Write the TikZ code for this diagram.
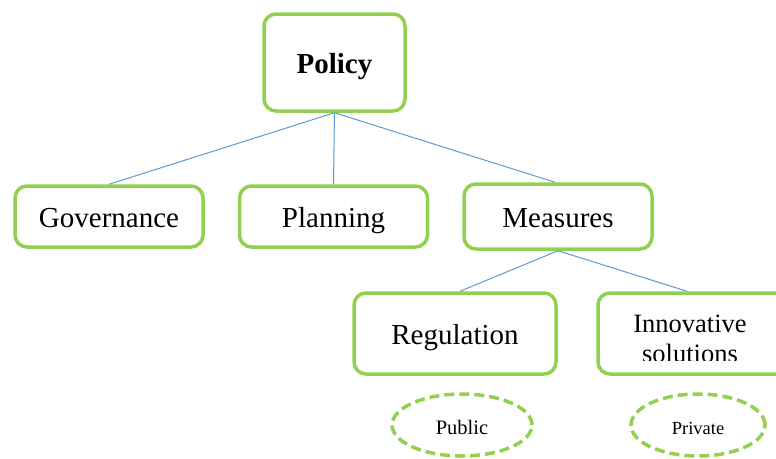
\documentclass[tikz,border=0pt]{standalone}
\usepackage{fontspec}
\setmainfont{Liberation Serif}
\usetikzlibrary{shapes.geometric,calc}
\definecolor{boxgreen}{HTML}{92D050}
\definecolor{linkblue}{HTML}{5B9BD5}
\tikzset{
  box/.style={draw=boxgreen, line width=3.5pt, rounded corners=12pt, fill=white,
    inner sep=0pt, align=center, font=\fontsize{29}{30}\selectfont,
    text height=21pt, text depth=0pt},
  oval/.style={draw=boxgreen, line width=3.5pt, ellipse, dash pattern=on 10pt off 5pt,
    inner sep=0pt, fill=white, text height=18pt, text depth=0pt},
  link/.style={draw=linkblue, line width=1pt},
  linetext/.style={inner sep=0pt, anchor=base, font=\fontsize{26.5}{30}\selectfont},
}
\begin{document}
\begin{tikzpicture}[x=1pt,y=-1pt]
\useasboundingbox (0,0) rectangle (776,458);
\node[box, minimum width=141pt, minimum height=97pt] (policy) at (334.5,62.5) {\bfseries Policy};
\node[box, minimum width=188pt, minimum height=61pt] (gov) at (109,216.5) {Governance};
\node[box, minimum width=188pt, minimum height=61pt] (plan) at (333.5,216.5) {Planning};
\node[box, minimum width=188pt, minimum height=65pt] (meas) at (558,216.5) {Measures};
\node[box, minimum width=202pt, minimum height=81pt] (reg) at (455,333.5) {Regulation};
\node[box, minimum width=194pt, minimum height=81pt] (innov) at (695,333.5) {};
\node[linetext] (innovtop) at (690,332) {Innovative};
\begin{scope}
\clip (600,340) rectangle (770,360);
\node[linetext] (innovbot) at (690,362) {solutions};
\end{scope}
\node[oval, minimum width=140pt, minimum height=62pt] (public) at (462,425) {\fontsize{20.5}{22}\selectfont Public};
\node[oval, minimum width=134pt, minimum height=62pt] (private) at (698,425) {\fontsize{18.5}{20}\selectfont Private};
\draw[link] (policy.south) -- (gov.north);
\draw[link] (policy.south) -- (plan.north);
\draw[link] (policy.south) -- ($(meas.north)+(-3,0)$);
\draw[link] (meas.south) -- ($(reg.north)+(5,0)$);
\draw[link] (meas.south) -- ($(innov.north)+(-8,0)$);
\draw[link] ($(reg.south)+(1,0)$) -- ($(reg.south)+(1,0)$ |- public.north);
\draw[link] ($(innov.south)+(-4,0)$) -- ($(innov.south)+(-4,0)$ |- private.north);
\end{tikzpicture}
\end{document}
